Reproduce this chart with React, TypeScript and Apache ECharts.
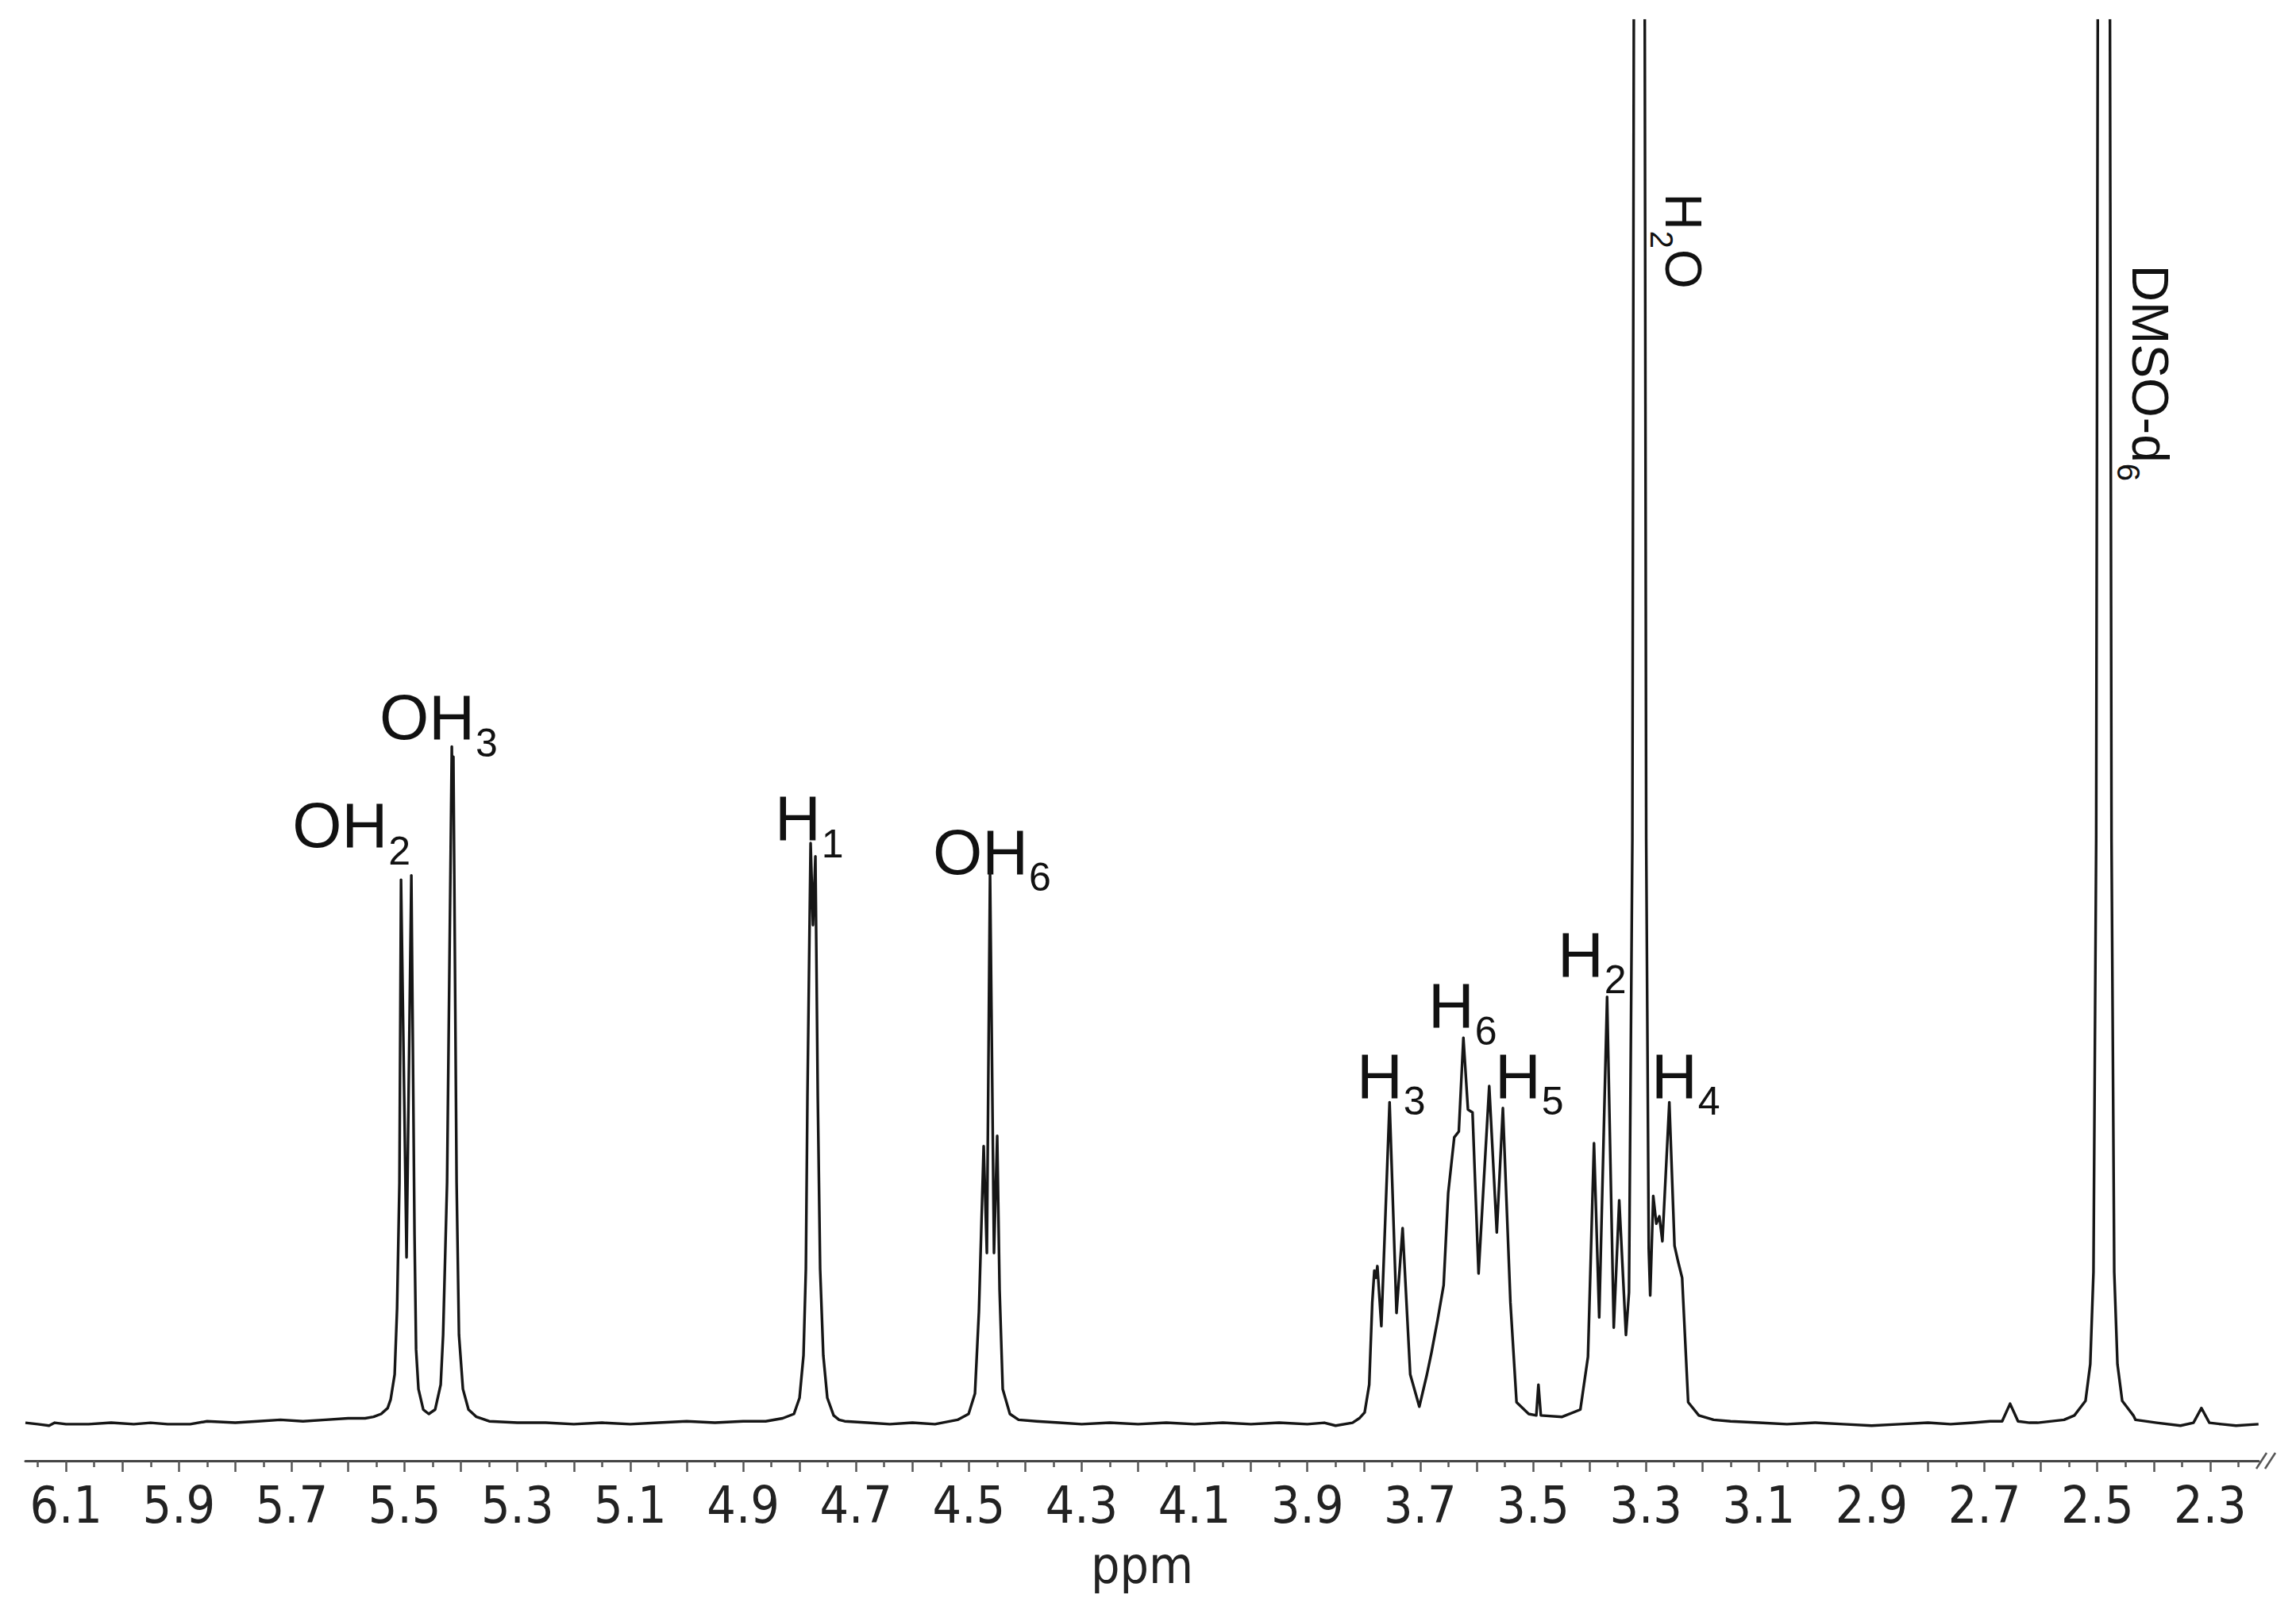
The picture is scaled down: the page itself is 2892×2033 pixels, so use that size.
import React, { useEffect, useRef } from "react";
import * as echarts from "echarts";

// ---- spectrum trace, [ppm, intensity] (intensity in arbitrary units, baseline = 0) ----
const BASELINE_LEFT: [number, number][] = [
  [6.172, 1], [6.15, 0], [6.13, -1], [6.12, 1], [6.1, 0], [6.06, 0], [6.02, 1], [5.98, 0],
  [5.95, 1], [5.92, 0], [5.88, 0], [5.85, 2], [5.8, 1], [5.76, 2], [5.72, 3], [5.68, 2],
  [5.64, 3], [5.6, 4], [5.57, 4], [5.555, 5],
];
const OH2_OH3: [number, number][] = [
  [5.5415, 7], [5.5300, 11], [5.5246, 17], [5.5176, 34], [5.5133, 79], [5.5091, 165], [5.5063, 372],
  [5.4965, 114], [5.488, 375], [5.4824, 130], [5.4796, 51], [5.4754, 24], [5.4669, 10],
  [5.4571, 7], [5.4458, 10], [5.436, 27], [5.4317, 61], [5.4247, 165], [5.4163, 463],
  [5.4149, 420], [5.4135, 456], [5.4078, 165], [5.4036, 61], [5.3966, 24], [5.3867, 10], [5.3726, 5],
];
const BASELINE_MID1: [number, number][] = [
  [5.35, 2], [5.3, 1], [5.25, 1], [5.2, 0], [5.15, 1], [5.1, 0], [5.05, 1], [5.0, 2],
  [4.95, 1], [4.9, 2], [4.86, 2], [4.83, 4],
];
const H1_PEAK: [number, number][] = [
  [4.8099, 7], [4.8, 18], [4.793, 47], [4.7888, 106], [4.786, 224], [4.7804, 397],
  [4.7762, 341], [4.7719, 388], [4.7677, 224], [4.7635, 106], [4.7579, 47], [4.7508, 18], [4.7396, 6],
  [4.73, 3],
];
const BASELINE_MID2: [number, number][] = [
  [4.72, 2], [4.68, 1], [4.64, 0], [4.6, 1], [4.56, 0], [4.52, 3],
];
const OH6_PEAK: [number, number][] = [
  [4.5004, 7], [4.4891, 21], [4.4821, 77], [4.4737, 190], [4.468, 117], [4.4624, 378],
  [4.4554, 117], [4.4497, 197], [4.4455, 92], [4.4399, 24], [4.4272, 7], [4.4118, 3],
];
const BASELINE_MID3: [number, number][] = [
  [4.38, 2], [4.34, 1], [4.3, 0], [4.25, 1], [4.2, 0], [4.15, 1], [4.1, 0], [4.05, 1],
  [4.0, 0], [3.95, 1], [3.9, 0], [3.87, 1], [3.85, -1], [3.82, 1],
];
const RING_H: [number, number][] = [
  [3.808, 4], [3.7985, 8], [3.7904, 27], [3.785, 83], [3.7813, 105], [3.7786, 100], [3.7759, 108],
  [3.7689, 67], [3.7543, 220], [3.742, 76], [3.7312, 134], [3.7177, 34], [3.7016, 12],
  [3.6881, 34], [3.68, 49], [3.6693, 71], [3.6585, 95], [3.6504, 158], [3.6397, 196],
  [3.6316, 200], [3.6235, 264], [3.6154, 215], [3.6073, 213], [3.5966, 103], [3.5777, 231],
  [3.5643, 131], [3.5535, 216], [3.5401, 83], [3.5293, 15], [3.5077, 7], [3.4943, 6],
  [3.4905, 27], [3.4862, 6], [3.4485, 5], [3.4162, 10], [3.4027, 46], [3.392, 192],
  [3.3828, 73], [3.3688, 292], [3.357, 66], [3.3473, 153], [3.3354, 61],
];
const H2O_PEAK: [number, number][] = [
  [3.33, 90], [3.324, 400], [3.319, 1500], [3.3117, 50000], [3.3045, 1500], [3.2995, 400], [3.295, 120],
];
const H4_REGION: [number, number][] = [
  [3.2924, 88], [3.287, 156], [3.2816, 137], [3.2762, 142], [3.2708, 125], [3.2585, 220],
  [3.2493, 122], [3.2429, 111], [3.2358, 100], [3.2251, 15], [3.2062, 6],
];
const BASELINE_RIGHT: [number, number][] = [
  [3.18, 3], [3.15, 2], [3.1, 1], [3.05, 0], [3.0, 1], [2.95, 0], [2.9, -1], [2.85, 0],
  [2.8, 1], [2.76, 0], [2.72, 1], [2.69, 2], [2.6687, 2], [2.6546, 14], [2.6405, 2],
  [2.62, 1], [2.6058, 1], [2.5589, 3],
];
const DMSO_PEAK: [number, number][] = [
  [2.5406, 6], [2.5209, 16], [2.5125, 41], [2.5068, 104], [2.502, 400], [2.4985, 1100],
  [2.495, 3000], [2.4884, 60000], [2.4818, 3000], [2.4783, 1100], [2.4748, 400], [2.47, 104],
  [2.4643, 41], [2.4559, 16], [2.4362, 6],
];
const BASELINE_END: [number, number][] = [
  [2.4323, 3], [2.3948, 1], [2.3526, -1], [2.3296, 1], [2.3155, 11], [2.3014, 1],
  [2.28, 0], [2.2541, -1], [2.2143, 0],
];

// ---- axis ticks ----
const TICK_LABELS = [6.1, 5.9, 5.7, 5.5, 5.3, 5.1, 4.9, 4.7, 4.5, 4.3, 4.1, 3.9, 3.7, 3.5, 3.3, 3.1, 2.9, 2.7, 2.5, 2.3];
const MAJOR_TICKS = [
  6.1, 6.0, 5.9, 5.8, 5.7, 5.6, 5.5, 5.4, 5.3, 5.2, 5.1, 5.0, 4.9, 4.8, 4.7, 4.6, 4.5, 4.4, 4.3, 4.2,
  4.1, 4.0, 3.9, 3.8, 3.7, 3.6, 3.5, 3.4, 3.3, 3.2, 3.1, 3.0, 2.9, 2.8, 2.7, 2.6, 2.5, 2.4, 2.3,
];
const MINOR_TICKS = [
  6.15, 6.05, 5.95, 5.85, 5.75, 5.65, 5.55, 5.45, 5.35, 5.25, 5.15, 5.05, 4.95, 4.85, 4.75, 4.65,
  4.55, 4.45, 4.35, 4.25, 4.15, 4.05, 3.95, 3.85, 3.75, 3.65, 3.55, 3.45, 3.35, 3.25, 3.15, 3.05,
  2.95, 2.85, 2.75, 2.65, 2.55, 2.45, 2.35, 2.25,
];

// ---- peak annotations: anchor (left edge, cap centre) in data units ----
const PEAK_LABELS = [
  { main: "OH", sub: "2", ppm: 5.699, h: 409 },
  { main: "OH", sub: "3", ppm: 5.5443, h: 483 },
  { main: "H", sub: "1", ppm: 4.8437, h: 414 },
  { main: "OH", sub: "6", ppm: 4.5637, h: 391 },
  { main: "H", sub: "3", ppm: 3.8124, h: 238 },
  { main: "H", sub: "6", ppm: 3.6858, h: 286 },
  { main: "H", sub: "5", ppm: 3.5676, h: 238 },
  { main: "H", sub: "2", ppm: 3.4565, h: 321 },
  { main: "H", sub: "4", ppm: 3.2905, h: 238 },
];
const SOLVENT_LABELS = [
  { main: "H", sub: "2", tail: "O", ppm: 3.2342, h: 841 },
  { main: "DMSO-d", sub: "6", tail: "", ppm: 2.407, h: 792 },
];

const X_MIN = 2.214;
const X_MAX = 6.172;
const Y_MIN = -25;
const Y_MAX = 959;

const ARIAL = "'Liberation Sans', Arial, sans-serif";
const AXIS_FONT = "'DejaVu Sans Condensed', 'Liberation Sans', sans-serif";

let measureCtx: CanvasRenderingContext2D | null = null;
function textWidth(s: string, size: number): number {
  if (!measureCtx) measureCtx = document.createElement("canvas").getContext("2d");
  if (!measureCtx) return s.length * size * 0.6;
  measureCtx.font = `${size}px ${ARIAL}`;
  return measureCtx.measureText(s).width;
}

export default function App() {
  const ref = useRef<HTMLDivElement>(null);

  useEffect(() => {
    if (!ref.current) return;
    const chart = echarts.init(ref.current, undefined, { renderer: "svg" });
    const trace = [
      ...BASELINE_LEFT, ...OH2_OH3, ...BASELINE_MID1, ...H1_PEAK, ...BASELINE_MID2, ...OH6_PEAK,
      ...BASELINE_MID3, ...RING_H, ...H2O_PEAK, ...H4_REGION, ...BASELINE_RIGHT, ...DMSO_PEAK, ...BASELINE_END,
    ];

    chart.setOption({
      animation: false,
      backgroundColor: "#ffffff",
      grid: { left: 32, right: 47, top: 26, bottom: 193, containLabel: false },
      xAxis: [
        {
          type: "value",
          min: X_MIN,
          max: X_MAX,
          inverse: true,
          position: "bottom",
          name: "ppm",
          nameLocation: "middle",
          nameGap: 100,
          nameTextStyle: { fontSize: 64, color: "#222", fontFamily: AXIS_FONT },
          axisLine: { show: true, onZero: false, lineStyle: { color: "#444", width: 3 } },
          axisTick: { show: true, customValues: MAJOR_TICKS, length: 14, lineStyle: { color: "#555", width: 2.5 } },
          axisLabel: {
            show: true,
            customValues: TICK_LABELS,
            formatter: (v: number) => v.toFixed(1),
            fontSize: 64,
            margin: 24,
            color: "#222",
            fontFamily: AXIS_FONT,
          },
          splitLine: { show: false },
        },
        {
          type: "value",
          min: X_MIN,
          max: X_MAX,
          inverse: true,
          position: "bottom",
          offset: 0,
          axisLine: { show: false, onZero: false },
          axisTick: { show: true, customValues: MINOR_TICKS, length: 8, lineStyle: { color: "#555", width: 2.5 } },
          axisLabel: { show: false },
          splitLine: { show: false },
        },
      ],
      yAxis: {
        type: "value",
        min: Y_MIN,
        max: Y_MAX,
        show: false,
        splitLine: { show: false },
      },
      series: [
        {
          type: "line",
          xAxisIndex: 0,
          data: trace,
          showSymbol: false,
          symbol: "none",
          clip: true,
          lineStyle: { color: "#161616", width: 3.4, join: "round" },
          silent: true,
        },
      ],
    });

    const graphics: any[] = [];
    const txt = (text: string, x: number, y: number, size: number) => ({
      type: "text",
      x,
      y,
      silent: true,
      style: {
        text,
        fontSize: size,
        fontFamily: ARIAL,
        fill: "#111",
        align: "left",
        verticalAlign: "middle",
      },
    });

    PEAK_LABELS.forEach((l) => {
      const p = chart.convertToPixel({ seriesIndex: 0 }, [l.ppm, l.h]) as number[];
      const w = textWidth(l.main, 80);
      graphics.push({
        type: "group",
        x: p[0],
        y: p[1],
        silent: true,
        children: [txt(l.main, 0, 0, 80), txt(l.sub, w + 1, 32, 50)],
      });
    });
    SOLVENT_LABELS.forEach((l) => {
      const p = chart.convertToPixel({ seriesIndex: 0 }, [l.ppm, l.h]) as number[];
      const w = textWidth(l.main, 64);
      const ws = textWidth(l.sub, 40);
      const children: any[] = [txt(l.main, 0, 0, 64), txt(l.sub, w + 1, 27, 40)];
      if (l.tail) children.push(txt(l.tail, w + ws + 2, 0, 64));
      graphics.push({
        type: "group",
        x: p[0],
        y: p[1],
        rotation: -Math.PI / 2,
        silent: true,
        children,
      });
    });
    // axis break mark at the right end of the axis
    graphics.push(
      { type: "line", silent: true, shape: { x1: 2842, y1: 1850, x2: 2855, y2: 1830 }, style: { stroke: "#555", lineWidth: 2.5 } },
      { type: "line", silent: true, shape: { x1: 2853, y1: 1850, x2: 2866, y2: 1830 }, style: { stroke: "#555", lineWidth: 2.5 } }
    );
    chart.setOption({ graphic: graphics });

    return () => chart.dispose();
  }, []);

  return (
    <div
      ref={ref}
      style={{ position: "absolute", left: 0, top: 0, width: 2892, height: 2033, background: "#fff" }}
    />
  );
}
